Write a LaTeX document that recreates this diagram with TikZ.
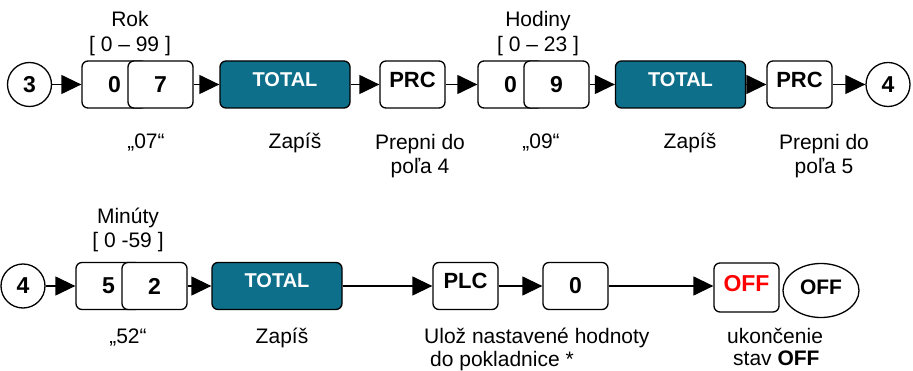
\documentclass[tikz,border=0pt]{standalone}
\usepackage{fontspec}
\setmainfont{Liberation Sans}
\usetikzlibrary{arrows.meta,shapes.geometric}
\definecolor{totalcol}{HTML}{0E6F8A}
\definecolor{offred}{HTML}{FF0000}
\tikzset{
  >={Triangle[length=20pt,width=19pt]},
  lbl/.style={font=\fontsize{21}{24.5}\selectfont, inner sep=0pt},
  key/.style={rounded corners=6pt, draw=black, fill=white, line width=1.3pt,
              minimum width=65pt, minimum height=47pt, inner sep=0pt,
              font=\fontsize{23}{26}\selectfont\bfseries},
  cmdkey/.style={key, text depth=10pt, font=\fontsize{22}{26}\selectfont\bfseries},
  totkey/.style={cmdkey, fill=totalcol, text=white, minimum width=130pt,
                 font=\fontsize{20}{24}\selectfont\bfseries},
  stepnum/.style={circle, draw=black, line width=1.3pt, minimum size=44pt,
                  inner sep=0pt, font=\fontsize{23}{26}\selectfont\bfseries},
  offkey/.style={ellipse, draw=black, line width=1.3pt, minimum width=76pt,
                 minimum height=54pt, inner sep=0pt, text depth=6pt,
                 font=\fontsize{21}{24}\selectfont\bfseries},
  flow/.style={->, line width=1.3pt},
}

\begin{document}
\begin{tikzpicture}[x=1pt, y=-1pt, line join=round]
\useasboundingbox (0,0) rectangle (913,371);

% ===================== ROW 1: rok, hodiny =====================
\node[stepnum] (c3) at (29.5,84.5) {3};
\node[key] (y0) at (114.5,84.5) {0};
\node[key] (y7) at (160.5,84.5) {7};
\node[totkey] (tot1) at (285,84.5) {TOTAL};
\node[cmdkey] (prc1) at (412.5,84.5) {PRC};
\node[key] (h0) at (510.5,84.5) {0};
\node[key] (h9) at (556.5,84.5) {9};
\node[totkey] (tot2) at (680.5,84.5) {TOTAL};
\node[cmdkey] (prc2) at (799.5,84.5) {PRC};
\node[stepnum] (c4a) at (888,84.5) {4};

\draw[flow] (c3) -- (y0);
\draw[flow] (y7) -- (tot1);
\draw[flow] (tot1) -- (prc1);
\draw[flow] (prc1) -- (h0);
\draw[flow] (h9) -- (tot2);
\draw[flow] (tot2) -- (prc2);
\draw[flow] (prc2) -- (c4a);

\node[lbl, anchor=north, align=center] (rok) at (130,11.5) {Rok\\{[ 0 – 99 ]}};
\node[lbl, anchor=north, align=center] (hod) at (538,11.5) {Hodiny\\{[ 0 – 23 ]}};
\node[lbl, anchor=base] (v07) at (146,149) {„07“};
\node[lbl, anchor=base] (zap1) at (295,149) {Zapíš};
\node[lbl, anchor=north, align=center] (pre4) at (420,133.6) {Prepni do\\poľa 4};
\node[lbl, anchor=base] (v09) at (541,149) {„09“};
\node[lbl, anchor=base] (zap2) at (690,149) {Zapíš};
\node[lbl, anchor=north, align=center] (pre5) at (824,133.6) {Prepni do\\poľa 5};

% ===================== ROW 2: minuty, ulozenie =====================
\node[stepnum] (c4b) at (23,286) {4};
\node[key] (m5) at (108.5,286) {5};
\node[key] (m2) at (154.5,286) {2};
\node[totkey] (tot3) at (277,286) {TOTAL};
\node[cmdkey] (plc) at (465.5,286) {PLC};
\node[key] (k0) at (575.5,286) {0};
\node[cmdkey, text=offred, text depth=9pt, minimum height=49pt,
      font=\fontsize{23}{26}\selectfont\bfseries] (off) at (746.5,287.5) {OFF};
\node[offkey] (offe) at (821,290.5) {OFF};

\draw[flow] (c4b) -- (m5);
\draw[flow] (m2) -- (tot3);
\draw[flow] (tot3) -- (plc);
\draw[flow] (plc) -- (k0);
\draw[flow] (k0.east) -- (k0.east -| off.west);

\node[lbl, anchor=north, align=center] (minu) at (128,207.5) {Minúty\\{[ 0 -59 ]}};
\node[lbl, anchor=base] (v52) at (128,344) {„52“};
\node[lbl, anchor=base] (zap3) at (282,344) {Zapíš};
% bottom pair kept a little tighter so the descenders stay on the page
\node[lbl, font=\fontsize{21}{22.5}\selectfont, anchor=north west, align=left] (uloz)
  at (424,328) {Ulož nastavené hodnoty\\\hspace*{6pt}do pokladnice *};
\node[lbl, font=\fontsize{21}{22.5}\selectfont, anchor=north west, align=left] (ukon)
  at (727,328) {ukončenie\\\hspace*{6pt}stav \textbf{OFF}};

\end{tikzpicture}
\end{document}
